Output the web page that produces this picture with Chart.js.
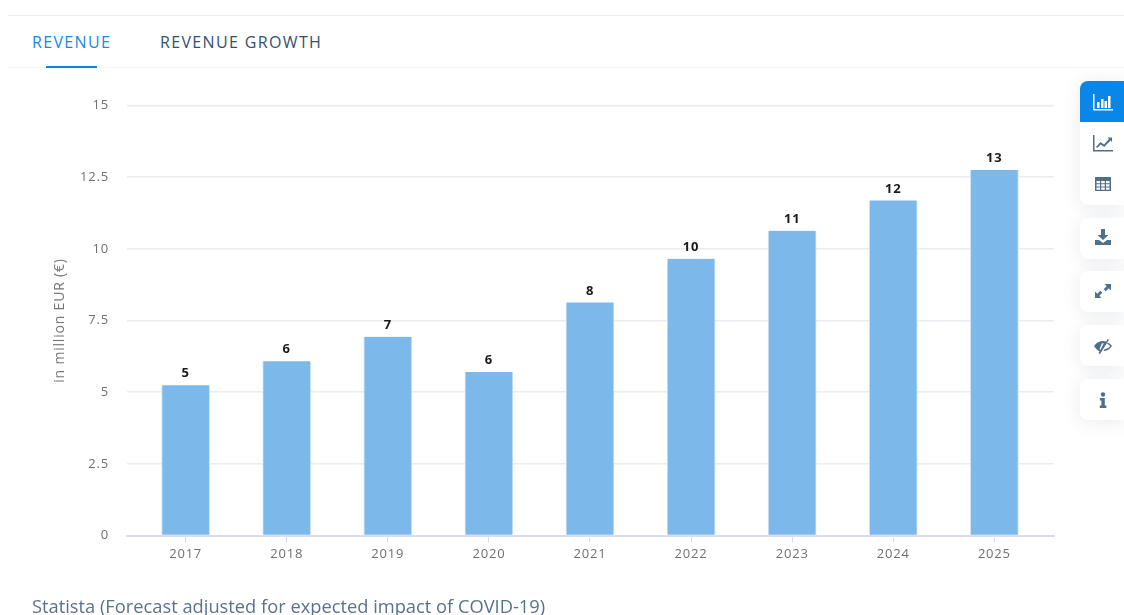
<!DOCTYPE html>
<html>
<head>
<meta charset="utf-8">
<title>Revenue</title>
<script src="https://cdn.jsdelivr.net/npm/chart.js@4"></script>
<style>
html,body{margin:0;padding:0;background:#fff;overflow:hidden}
body{width:1124px;height:615px;position:relative;font-family:"Open Sans",sans-serif}
#myChart{position:absolute;left:0;top:0}
.topline{position:absolute;left:8px;right:0;top:15px;height:1px;background:#eceef0}
.tabline{position:absolute;left:8px;right:0;top:67px;height:1px;background:#f1f5f9}
.tab{position:absolute;top:32px;font-size:16px;line-height:20px;letter-spacing:1.35px;color:#34506e;font-weight:500;white-space:nowrap}
.tab.on{color:#1b87e0}
.underline{position:absolute;left:46px;top:66px;width:51px;height:2px;background:#0a85e8}
.source{position:absolute;left:32px;top:594px;font-size:18.3px;line-height:24px;color:#59728f;white-space:nowrap}
.tools{position:absolute;left:1080px;width:44px;background:#fff;border-radius:8px 0 0 8px;box-shadow:0 2px 18px rgba(70,90,120,.12);overflow:hidden}
.tools div{height:41px;display:flex;align-items:center;justify-content:center;padding-left:2px;box-sizing:border-box}
.tools svg{width:20px;height:20px;fill:#4f6f8f;stroke:none}
.tools .on{background:#0a85e8}
.tools .on svg{fill:#fff}
</style>
</head>
<body>
<div class="topline"></div>
<div class="tabline"></div>
<div class="tab on" style="left:32px">REVENUE</div>
<div class="tab" style="left:160px">REVENUE GROWTH</div>
<div class="underline"></div>

<canvas id="myChart" width="1124" height="615"></canvas>

<div class="tools" style="top:81px;height:124px">
  <div class="on"><svg viewBox="0 0 20 20"><path d="M0 2h1.500v15H20v1.500H0z"/><path d="M4 10h2.500v6H4zM8 7h2.500v9H8zM11.500 9h2.500v7h-2.500zM15 4h2.500v12H15z"/></svg></div>
  <div><svg viewBox="0 0 20 20"><path d="M0 2h1.500v15H20v1.500H0z"/><path d="M3 14l4.500-5 3.500 2.500L16 6l-1.500-1.500H19V9l-1.500-1.500-6.300 6.500-3.500-2.500-3.500 3.500z"/></svg></div>
  <div><svg viewBox="0 0 20 20"><path fill-rule="evenodd" d="M2 3h16v14H2zM3.500 7v2.200h3.500V7zM8.200 7v2.200h3.600V7zM13 7v2.200h3.500V7zM3.500 10.300v2.200h3.500v-2.200zM8.200 10.300v2.200h3.600v-2.200zM13 10.300v2.200h3.500v-2.200zM3.500 13.600v2.200h3.500v-2.200zM8.200 13.600v2.200h3.600v-2.200zM13 13.600v2.200h3.500v-2.200z"/></svg></div>
</div>
<div class="tools" style="top:218px;height:41px">
  <div style="padding-bottom:3px"><svg viewBox="0 0 20 20"><path d="M8 2h4v6h3.500L10 13 4.500 8H8z"/><path d="M2 13h4l4 3 4-3h4v5H2z"/></svg></div>
</div>
<div class="tools" style="top:271px;height:41px">
  <div style="padding-bottom:1px"><svg viewBox="0 0 20 20"><path d="M11.500 3H18v6.500l-2.300-2.300-3 3-2-2 3-3zM8.500 17H2v-6.500l2.300 2.300 3-3 2 2-3 3z"/></svg></div>
</div>
<div class="tools" style="top:325px;height:41px">
  <div><svg viewBox="0 0 20 20"><path fill-rule="evenodd" d="M1 10c2.500-3.500 5.500-5 9-5 1.200 0 2.300.2 3.300.5L14.500 3l1.500.8L7 18l-1.500-.8 1-1.900C4.500 14.400 2.600 12.600 1 10zM9 7.200 6.500 13l1 1 3.200-6.800z"/><path d="M14.800 6.400C16.500 7.200 18 8.400 19 10c-2 3-5 5-8.500 5l1-1.800c2.600-.3 4.500-1.500 5.700-3.200-.9-.9-2-1.700-3.200-2.200z"/></svg></div>
</div>
<div class="tools" style="top:379px;height:41px">
  <div><svg viewBox="0 0 20 20"><circle cx="10" cy="4.500" r="2.200"/><path d="M6.800 8h5v7.500h1.600V18H6.800v-2.500h1.600v-5H6.800z"/></svg></div>
</div>

<div class="source">Statista (Forecast adjusted for expected impact of COVID-19)</div>

<script>
// 연도별 매출 (백만 유로)
const years = [2017, 2018, 2019, 2020, 2021, 2022, 2023, 2024, 2025];
const revenue = [5.24, 6.08, 6.93, 5.7, 8.13, 9.65, 10.63, 11.69, 12.75];
const yTicks = [0, 2.5, 5, 7.5, 10, 12.5, 15];
const yTitle = 'in million EUR (€)';

const ctx = document.getElementById('myChart');

// 막대 위에 반올림한 값 표시
const barLabels = {
	id: 'barLabels',
	afterDatasetsDraw(chart) {
		const c = chart.ctx;
		c.save();
		c.font = '700 13px "Open Sans"';
		c.fillStyle = '#1a1a1a';
		c.textAlign = 'center';
		c.textBaseline = 'bottom';
		c.letterSpacing = '0.8px';
		chart.getDatasetMeta(0).data.forEach((bar, i) => {
			c.fillText(Math.round(revenue[i]), bar.x, bar.y - 5);
		});
		c.restore();
	}
};

// 축 글자 자간
const spacing = {
	id: 'spacing',
	beforeDraw(chart) {
		chart.ctx.letterSpacing = '0.8px';
	}
};

new Chart(ctx, {
	type: 'bar',
	data: {
		datasets: [{
			data: years.map((y, i) => ({ x: y, y: revenue[i] })),
			backgroundColor: '#7cb9ea',
			borderColor: '#cfe4f7',
			borderWidth: { left: 1, right: 1, top: 0, bottom: 0 },
			barThickness: 48
		}]
	},
	options: {
		responsive: false,
		animation: false,
		layout: { padding: { left: 52, right: 70, top: 105.5, bottom: 50 } },
		plugins: { legend: { display: false }, tooltip: { enabled: false } },
		scales: {
			x: {
				type: 'linear',
				offset: false,
				min: 2016.42,
				max: 2025.59,
				afterBuildTicks(axis) {
					axis.ticks = years.map(v => ({ value: v }));
				},
				afterFit(axis) { axis.height = 29.5; },
				grid: { offset: false, drawOnChartArea: false, drawTicks: true, tickLength: 7, color: '#d5daee', tickColor: '#d5daee', lineWidth: 1 },
				border: { color: '#d9ddef', width: 2 },
				ticks: {
					autoSkip: false,
					maxRotation: 0,
					padding: 4,
					color: '#6f6f6f',
					font: { family: '"Open Sans"', size: 13 },
					callback: v => String(v)
				}
			},
			y: {
				min: 0,
				max: 15,
				afterBuildTicks(axis) {
					axis.ticks = yTicks.map(v => ({ value: v }));
				},
				afterFit(axis) { axis.width = 75; },
				grid: { color: '#e9ecf1', lineWidth: 1.5, drawTicks: false },
				border: { display: false },
				ticks: {
					padding: 18,
					color: '#6f6f6f',
					font: { family: '"Open Sans"', size: 13 },
					callback: v => String(v)
				},
				title: {
					display: true,
					text: yTitle,
					color: '#777',
					font: { family: '"Open Sans"', size: 14 },
					padding: { top: 0, bottom: 0 }
				}
			}
		}
	},
	plugins: [spacing, barLabels]
});
</script>
</body>
</html>
